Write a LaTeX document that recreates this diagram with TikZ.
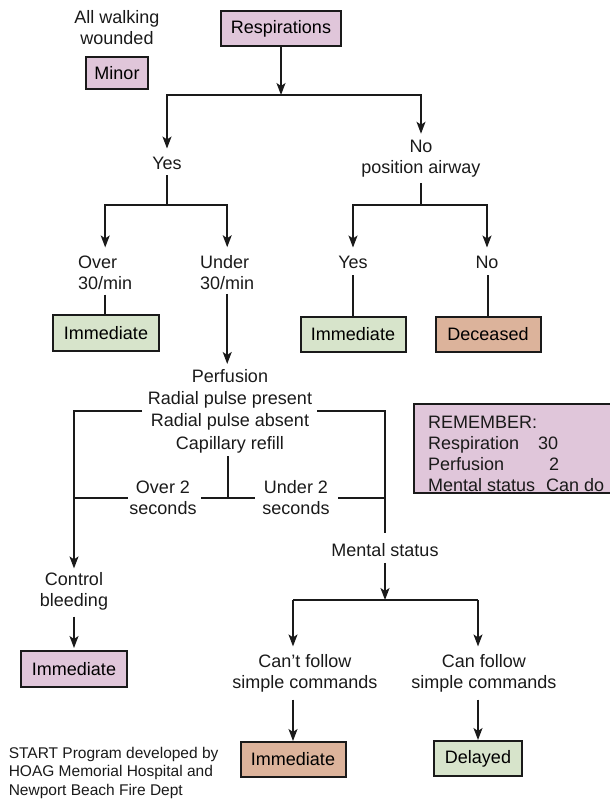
\documentclass[tikz,border=0pt]{standalone}
\usepackage{fontspec}
\setmainfont{Liberation Sans}
\usetikzlibrary{arrows.meta}
\definecolor{pbox}{HTML}{E0C6DA}
\definecolor{gbox}{HTML}{D7E4CB}
\definecolor{sbox}{HTML}{DCB39B}
\definecolor{ink}{HTML}{1A1A1A}
\tikzset{
  boxnode/.style={draw=ink, line width=2pt, inner sep=0pt, font=\fontsize{18}{21}\selectfont},
  txt/.style={inner sep=0pt, align=center, font=\fontsize{18}{21}\selectfont, text=ink},
  conn/.style={draw=ink, line width=1.5pt},
  arr/.style={conn, -{Stealth[length=12pt, width=9pt, inset=3pt]}},
}
\begin{document}
\begin{tikzpicture}[x=1pt, y=-1pt]
\useasboundingbox (0,0) rectangle (610,800);
\clip (0,0) rectangle (610,800);
% boxes
\node[boxnode, fill=pbox, minimum width=120pt, minimum height=35pt] (resp) at (281,29) {Respirations};
\node[boxnode, fill=pbox, minimum width=62pt, minimum height=32pt] (minor) at (117,73) {Minor};
\node[boxnode, fill=gbox, minimum width=106pt, minimum height=36pt] (imm1) at (106,333) {Immediate};
\node[boxnode, fill=gbox, minimum width=105pt, minimum height=35pt] (imm2) at (353,334.5) {Immediate};
\node[boxnode, fill=sbox, minimum width=105pt, minimum height=35pt] (dec) at (488,334.5) {Deceased};
\node[boxnode, fill=pbox, minimum width=106pt, minimum height=36pt] (imm3) at (74,669) {Immediate};
\node[boxnode, fill=sbox, minimum width=105pt, minimum height=35pt] (imm4) at (293,759.5) {Immediate};
\node[boxnode, fill=gbox, minimum width=88pt, minimum height=35pt] (delay) at (478,758.5) {Delayed};
% remember box: open to the right edge
\node[inner sep=0pt, fill=pbox, minimum width=212pt, minimum height=89pt] (rem) at (520,448.5) {};
\draw[ink, line width=2pt] (rem.north east) -- (rem.north west) -- (rem.south west) -- (rem.south east);
% remember text
\node[txt, anchor=base west] (r1) at (428,428) {REMEMBER:};
\node[txt, anchor=base west] (r2) at (428,449) {Respiration};
\node[txt, anchor=base west] (r2b) at (538,449) {30};
\node[txt, anchor=base west] (r3) at (428,470) {Perfusion};
\node[txt, anchor=base west] (r3b) at (549,470) {2};
\node[txt, anchor=base west] (r4) at (428,491) {Mental status};
\node[txt, anchor=base west] (r4b) at (546,491) {Can do};
% text nodes
\node[txt] (walk) at (117,28) {All walking\\wounded};
\node[txt] (yes1) at (167,163) {Yes};
\node[txt] (no1) at (421,158.5) {No\\position airway};
\node[txt, align=left, anchor=west] (over30) at (78,272.5) {Over\\30/min};
\node[txt, align=left, anchor=west] (under30) at (200,272.5) {Under\\30/min};
\node[txt] (yes2) at (353,262) {Yes};
\node[txt] (no2) at (487,262) {No};
\node[txt, font=\fontsize{18}{22.3}\selectfont] (perf) at (230,411) {Perfusion\\Radial pulse present\\Radial pulse absent\\Capillary refill};
\node[txt] (over2) at (163,497.5) {Over 2\\seconds};
\node[txt] (under2) at (296,497.5) {Under 2\\seconds};
\node[txt] (mental) at (385,550) {Mental status};
\node[txt] (control) at (74,591.5) {Control\\bleeding};
\node[txt] (cant) at (305,673.5) {Can’t follow\\simple commands};
\node[txt] (canf) at (484,673.5) {Can follow\\simple commands};
\node[txt, align=left, anchor=west, font=\fontsize{15.5}{18.5}\selectfont] (foot) at (8.6,772.5) {START Program developed by\\HOAG Memorial Hospital and\\Newport Beach Fire Dept};
% coordinates
\coordinate (c1) at (281,95);
\coordinate (c2) at (167,205);
\coordinate (c3) at (421,205);
\coordinate (pl) at (142,411);
\coordinate (pr) at (317,411);
\coordinate (stem) at (228,498);
\coordinate (h1) at (75,498);
\coordinate (h2) at (128,498);
\coordinate (h3) at (201,498);
\coordinate (h4) at (255,498);
\coordinate (h5) at (338,498);
\coordinate (h6) at (386,498);
\coordinate (c4) at (385,600);
\coordinate (c4l) at (293,600);
\coordinate (c4r) at (478,600);
% connectors
\draw[arr] (resp.south) -- (c1);
\draw[arr, shorten >=8pt] (c1) -| (yes1.north);
\draw[arr, shorten >=6pt] (c1) -| (no1.north);
\draw[conn, shorten <=6pt] (yes1.south) -- (c2);
\draw[arr, shorten >=8pt] (c2) -| (over30.north);
\draw[arr, shorten >=8pt] (c2) -| (under30.north);
\draw[conn, shorten <=5pt] (over30.south) -- (over30.south |- imm1.north);
\draw[arr, shorten <=4pt, shorten >=5pt] (under30.south) -- (under30.south |- perf.north);
\draw[conn, shorten <=6pt] (no1.south) -- (c3);
\draw[arr, shorten >=8pt] (c3) -| (yes2.north);
\draw[arr, shorten >=8pt] (c3) -| (no2.north);
\draw[conn, shorten <=7pt] (yes2.south -| imm2.north) -- (imm2.north);
\draw[conn, shorten <=7pt] (no2.south -| dec.north) -- (dec.north);
\draw[arr, shorten >=4pt] (pl) -| (control.north);
\draw[conn, shorten >=10pt] (pr) -| (mental.north);
\draw[conn, shorten <=3pt] (stem |- perf.south) -- (stem);
\draw[conn] (h1) -- (h2);
\draw[conn] (h3) -- (h4);
\draw[conn] (h5) -- (h6);
\draw[arr, shorten <=6pt] (mental.south) -- (c4);
\draw[conn] (c4l) -- (c4r);
\draw[arr, shorten >=8pt] (c4l) -- (c4l |- cant.north);
\draw[arr, shorten >=8pt] (c4r) -- (c4r |- canf.north);
\draw[arr, shorten <=7pt] (imm4.north |- cant.south) -- (imm4.north);
\draw[arr, shorten <=7pt] (delay.north |- canf.south) -- (delay.north);
\draw[arr, shorten <=6pt, shorten >=2pt] (control.south) -- (imm3.north);
\end{tikzpicture}
\end{document}
